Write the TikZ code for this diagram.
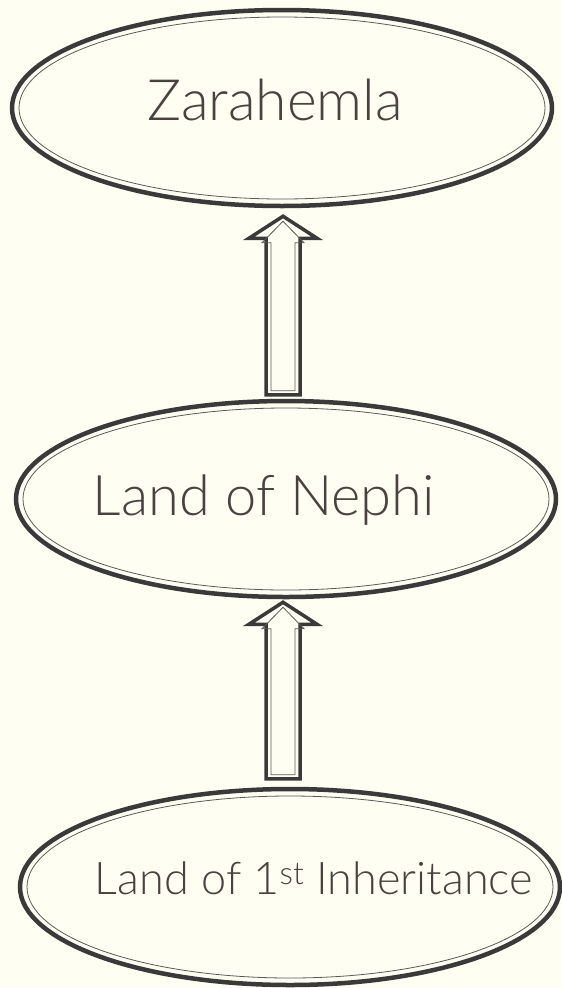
\documentclass[tikz,border=0pt]{standalone}
\usepackage{fontspec}
\setmainfont{Lato}[UprightFont=* Light]
\usetikzlibrary{shapes.geometric,calc}
\definecolor{paper}{HTML}{FEFEF2}
\definecolor{edge}{HTML}{3A3A3A}
\definecolor{ink}{HTML}{4A4240}
\definecolor{innerline}{HTML}{5A5A5A}
\tikzset{
  place/.style={ellipse, draw=edge, line width=4.5pt, fill=paper, minimum width=540pt, minimum height=196pt, inner sep=0pt},
  innerring/.style={draw=innerline, line width=0.8pt},
  label text/.style={text=ink, anchor=base, inner sep=0pt},
  blk/.style={draw=edge, line width=3.5pt, fill=paper, line join=miter},
  blkin/.style={draw=innerline, line width=0.8pt},
}
\newcommand{\blockarrow}[2]{%
  \draw[blk] let \p1=(#1), \p2=(#2) in
    (\x1-17pt,\y1) -- (\x1-17pt,\y2-22pt) -- (\x1-34pt,\y2-22pt) -- (\x1,\y2)
    -- (\x1+34pt,\y2-22pt) -- (\x1+17pt,\y2-22pt) -- (\x1+17pt,\y1) -- cycle;
  \draw[blkin] let \p1=(#1), \p2=(#2) in
    (\x1-12pt,\y1+4pt) -- (\x1-12pt,\y2-26.5pt) -- (\x1-21pt,\y2-26.5pt) -- (\x1,\y2-5pt)
    -- (\x1+21pt,\y2-26.5pt) -- (\x1+12pt,\y2-26.5pt) -- (\x1+12pt,\y1+4pt) -- cycle;
}
\begin{document}
\begin{tikzpicture}[x=1pt,y=-1pt]
\fill[paper] (0,0) rectangle (562,988);
\useasboundingbox (0,0) rectangle (562,988);

\node[place] (zara) at (282,108) {};
\draw[innerring] (zara.center) ellipse [x radius=263, y radius=91];
\node[label text, font=\fontsize{57}{60}\selectfont] (zt) at (275,120) {Zarahemla};

\node[place] (nephi) at (286,499) {};
\draw[innerring] (nephi.center) ellipse [x radius=263, y radius=91];
\node[label text, font=\fontsize{56}{60}\selectfont] (nt) at (264,515) {Land of Nephi};

\node[place] (inh) at (290,887) {};
\draw[innerring] (inh.center) ellipse [x radius=263, y radius=91];
\node[label text, font=\fontsize{45}{48}\selectfont] (it) at (314,894) {Land of 1\textsuperscript{st} Inheritance};

\coordinate (a1b) at ($(nephi.north)+(-3,-4)$);
\coordinate (a1t) at ($(zara.south)+(1,8)$);
\blockarrow{a1b}{a1t}
\coordinate (a2b) at ($(inh.north)+(-7,-8)$);
\coordinate (a2t) at ($(nephi.south)+(-3,3)$);
\blockarrow{a2b}{a2t}
\end{tikzpicture}
\end{document}
